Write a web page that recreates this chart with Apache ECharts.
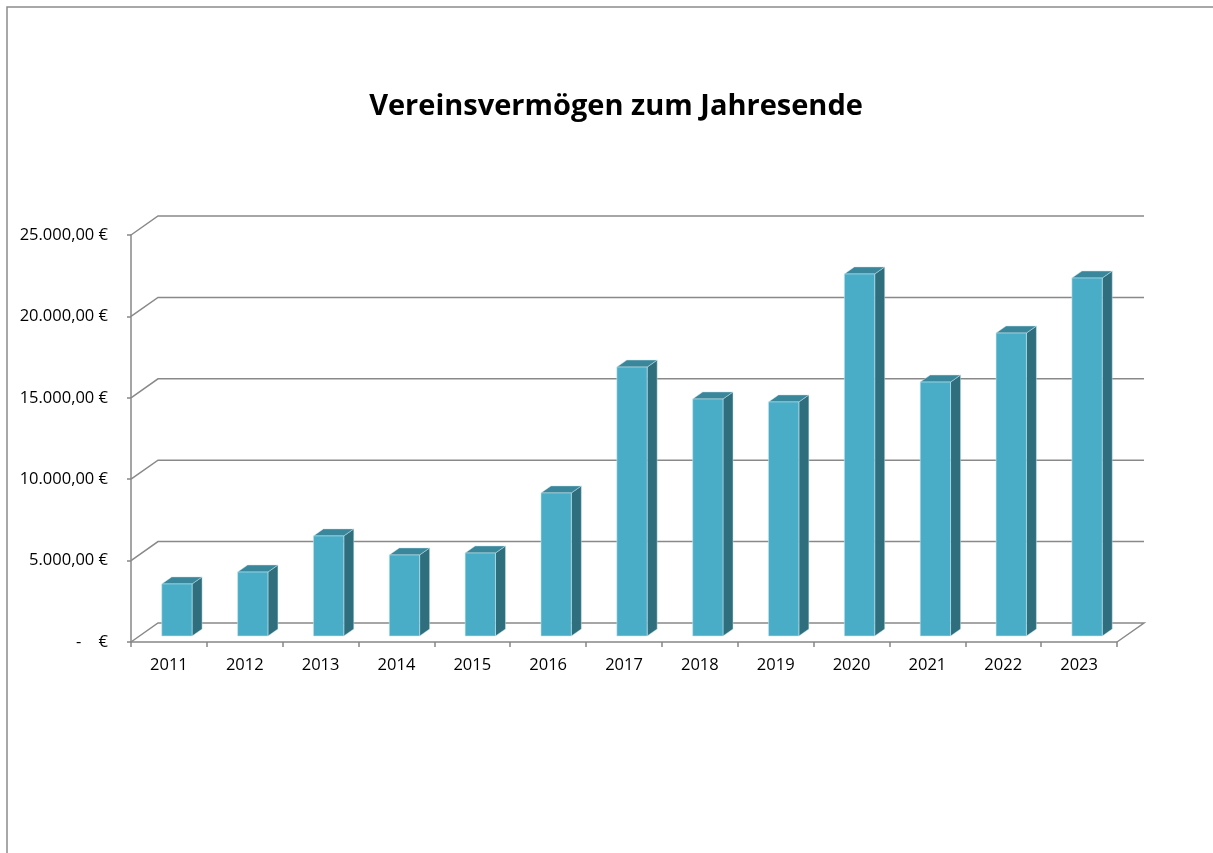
<!DOCTYPE html>
<html>
<head>
<meta charset="utf-8">
<script src="https://cdn.jsdelivr.net/npm/echarts@6/dist/echarts.min.js"></script>
<style>
    html, body { margin: 0; padding: 0; background: #fff; }
    #chart { width: 1213px; height: 853px; }
</style>
</head>
<body>
<div id="chart"></div>
<script>
/* Daten */
var years = ['2011', '2012', '2013', '2014', '2015', '2016', '2017', '2018', '2019', '2020', '2021', '2022', '2023'];
var assets = [3200, 3930, 6150, 4980, 5100, 8790, 16520, 14560, 14380, 22240, 15600, 18610, 21990];
var gridValues = [0, 5000, 10000, 15000, 20000, 25000];

/* 3D-Versatz: Rueckwand und Saeulentiefe */
var WALL_DX = 27, WALL_DY = -19;
var BAR_OX = 8, BAR_OY = -6;
var BAR_DX = 10, BAR_DY = -7;

function euro(v) {
    if (v === 0) return '-    €';
    var s = String(Math.round(v));
    s = s.replace(/\B(?=(\d{3})+(?!\d))/g, '.');
    return s + ',00 €';
}

var chart = echarts.init(document.getElementById('chart'));

chart.setOption({
    animation: false,
    title: {
        text: 'Vereinsvermögen zum Jahresende',
        left: 611,
        textAlign: 'center',
        top: 87,
        textStyle: {
            fontFamily: 'Open Sans',
            fontWeight: 'bold',
            fontSize: 29,
            color: '#000'
        }
    },
    graphic: [{
        type: 'rect',
        shape: { x: 7, y: 7, width: 1300, height: 1000 },
        style: { fill: 'none', stroke: '#8c8c8c', lineWidth: 1.5 },
        silent: true
    }],
    grid: {
        left: 131,
        right: 96,
        top: 235,
        bottom: 211
    },
    xAxis: {
        type: 'category',
        data: years,
        axisLine: { lineStyle: { color: '#878787', width: 1.5 } },
        axisTick: { show: true, length: 5, lineStyle: { color: '#878787', width: 1.5 } },
        axisLabel: {
            margin: 15,
            fontFamily: 'Open Sans',
            fontSize: 16.5,
            color: '#000'
        },
        splitLine: { show: false }
    },
    yAxis: {
        type: 'value',
        min: 0,
        max: 25000,
        interval: 5000,
        axisLine: { show: true, lineStyle: { color: '#878787', width: 1.5 } },
        axisTick: { show: true, length: 4, lineStyle: { color: '#878787', width: 1.5 } },
        axisLabel: {
            margin: 23,
            fontFamily: 'Open Sans',
            fontSize: 16.5,
            color: '#000',
            formatter: euro
        },
        splitLine: { show: false }
    },
    series: [
        {
            /* Rueckwand-Gitterlinien und Boden */
            type: 'custom',
            z: 1,
            silent: true,
            data: gridValues.map(function (v) { return [0, v]; }),
            renderItem: function (params, api) {
                var cs = params.coordSys;
                var v = api.value(1);
                var y = api.coord([0, v])[1];
                var x0 = cs.x, x1 = cs.x + cs.width;
                var pts = [[x0, y], [x0 + WALL_DX, y + WALL_DY], [x1 + WALL_DX, y + WALL_DY]];
                if (v === 0) pts.push([x1, y]);
                return {
                    type: 'polyline',
                    shape: { points: pts },
                    style: { fill: null, stroke: '#898989', lineWidth: 1.5 }
                };
            }
        },
        {
            /* 3D-Saeulen */
            type: 'custom',
            z: 3,
            data: assets.map(function (v, i) { return [i, v]; }),
            renderItem: function (params, api) {
                var i = api.value(0);
                var v = api.value(1);
                var p0 = api.coord([i, 0]);
                var p1 = api.coord([i, v]);
                var w = api.size([1, 0])[0] * 0.4;
                var left = p0[0] - w / 2 + BAR_OX;
                var right = left + w;
                var bottom = p0[1] + BAR_OY;
                var top = p1[1] + BAR_OY;
                return {
                    type: 'group',
                    children: [
                        {
                            type: 'polygon',
                            shape: { points: [[right, bottom], [right + BAR_DX, bottom + BAR_DY], [right + BAR_DX, top + BAR_DY], [right, top]] },
                            style: { fill: '#2f6e7d', stroke: 'rgba(200,230,238,0.6)', lineWidth: 0.8 }
                        },
                        {
                            type: 'polygon',
                            shape: { points: [[left, top], [right, top], [right + BAR_DX, top + BAR_DY], [left + BAR_DX, top + BAR_DY]] },
                            style: { fill: '#3a869a', stroke: 'rgba(200,230,238,0.6)', lineWidth: 0.8 }
                        },
                        {
                            type: 'rect',
                            shape: { x: left, y: top, width: w, height: bottom - top },
                            style: { fill: '#4aadc7', stroke: 'rgba(200,230,238,0.7)', lineWidth: 0.8 }
                        }
                    ]
                };
            }
        }
    ]
});
</script>
</body>
</html>
